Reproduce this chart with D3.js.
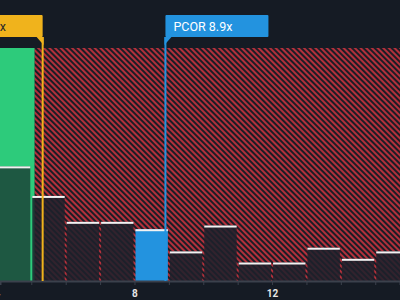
<!DOCTYPE html>
<html>
<head>
<meta charset="utf-8">
<script src="https://cdn.jsdelivr.net/npm/d3@7"></script>
<style>
  html, body { margin: 0; padding: 0; background: #151b24; }
  svg { display: block; }
</style>
</head>
<body>
<svg id="chart"></svg>
<script>
// histogram bins (P/S multiple), count of companies per bin
const binStarts = [4, 5, 6, 7, 8, 9, 10, 11, 12, 13, 14, 15];
const binCounts = [31, 23, 16, 16, 14, 8, 15, 5, 5, 9, 6, 8];
const tickValues = [4, 8, 12];

const companyName = "PCOR";
const companyValue = 8.9;
const peerLabel = "Peer Avg 5.3x";
const peerValue = 5.33;
const fairBoundary = 5.1;

const width = 400, height = 300;
const margin = { top: 48, bottom: 19 };

const svg = d3.select("#chart").attr("width", width).attr("height", height);

const x = d3.scaleLinear().domain([4.09, 15.72]).range([0, width]);
const y = d3.scaleLinear().domain([0, 63]).range([height - margin.bottom, margin.top]);

// hatch pattern
const defs = svg.append("defs");
const pat = defs.append("pattern")
    .attr("id", "hatch")
    .attr("patternUnits", "userSpaceOnUse")
    .attr("width", 4).attr("height", 4)
    .attr("patternTransform", "rotate(-45)");
pat.append("rect").attr("width", 4).attr("height", 4).attr("fill", "#1a1d26");
pat.append("rect").attr("width", 2).attr("height", 4).attr("fill", "#b3303b");

// green (undervalued) zone and hatched (overvalued) zone
svg.append("rect")
    .attr("x", 0).attr("y", y(63))
    .attr("width", x(fairBoundary)).attr("height", y(0) - y(63))
    .attr("fill", "#2dcb7b");
svg.append("rect")
    .attr("x", x(fairBoundary)).attr("y", y(63))
    .attr("width", width - x(fairBoundary)).attr("height", y(0) - y(63))
    .attr("fill", "url(#hatch)");

// bars
const bins = binStarts.map((s, i) => ({ start: s, count: binCounts[i] }));
const barColor = d => {
    if (companyValue >= d.start && companyValue < d.start + 1) return "#2393df";
    if (d.start + 1 <= fairBoundary + 0.5) return "#1e5842";
    return "rgba(29,33,43,0.86)";
};

const bars = svg.append("g");
bars.selectAll("rect.bar").data(bins).join("rect")
    .attr("class", "bar")
    .attr("x", d => x(d.start) + 1)
    .attr("y", d => y(d.count))
    .attr("width", d => x(d.start + 1) - x(d.start) - 2)
    .attr("height", d => y(0) - y(d.count))
    .attr("fill", barColor);
bars.selectAll("rect.top").data(bins).join("rect")
    .attr("class", "top")
    .attr("x", d => x(d.start) + 1)
    .attr("y", d => y(d.count))
    .attr("width", d => x(d.start + 1) - x(d.start) - 2)
    .attr("height", 2)
    .attr("fill", "#f2f2f2");

// axis
const axisG = svg.append("g")
    .attr("transform", `translate(0,${y(0)})`)
    .call(d3.axisBottom(x).tickValues(d3.range(4, 16, 1)).tickSize(4).tickFormat(d => tickValues.includes(d) ? d : ""));
axisG.select(".domain").attr("stroke", "#3b414c").attr("stroke-width", 2);
axisG.selectAll(".tick line").attr("stroke", "#3b414c");
axisG.selectAll(".tick text")
    .attr("fill", "#e6e6e6")
    .attr("font-family", "Roboto, sans-serif")
    .attr("font-size", 10)
    .attr("font-weight", "bold")
    .attr("dy", "0.9em");

// marker lines with flag labels
function marker(value, label, color, side) {
    const xv = x(value);
    const boxW = 103, top = 15, boxH = 22, tip = 8;
    const g = svg.append("g");
    g.append("line")
        .attr("x1", xv).attr("x2", xv)
        .attr("y1", top + boxH).attr("y2", y(0))
        .attr("stroke", color).attr("stroke-width", 2);
    const x0 = side === "right" ? xv : xv - boxW;
    g.append("rect")
        .attr("x", x0).attr("y", top)
        .attr("width", boxW).attr("height", boxH)
        .attr("rx", 1)
        .attr("fill", color);
    const tri = side === "right"
        ? [[xv - 1, top + boxH], [xv + 6, top + boxH], [xv - 1, top + boxH + tip]]
        : [[xv + 1, top + boxH], [xv - 6, top + boxH], [xv + 1, top + boxH + tip]];
    g.append("path").attr("d", d3.line()(tri) + "Z").attr("fill", color);
    g.append("text")
        .attr("x", side === "right" ? xv + 8 : 6)
        .attr("y", top + 16)
        .attr("text-anchor", side === "right" ? "start" : "end")
        .attr("fill", side === "right" ? "#ffffff" : "#2a2a2a")
        .attr("font-family", "Roboto, sans-serif")
        .attr("font-size", 12.5)
        .text(label);
}

marker(peerValue, peerLabel, "#f0b31c", "left");
marker(companyValue, `${companyName} ${companyValue}x`, "#2393df", "right");
</script>
</body>
</html>
